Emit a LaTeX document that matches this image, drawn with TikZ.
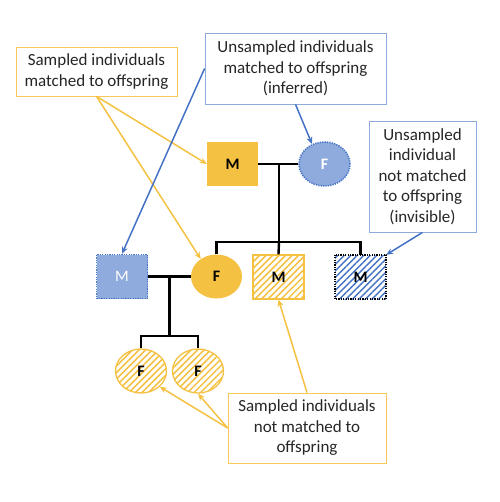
\documentclass[tikz,border=0pt]{standalone}
\usepackage{fontspec}
\setmainfont{Carlito}
\usetikzlibrary{shapes.geometric,patterns.meta,arrows.meta}
\definecolor{gold}{HTML}{F4C143}
\definecolor{goldline}{HTML}{F6C85A}
\definecolor{bluefill}{HTML}{8FAADC}
\definecolor{blueline}{HTML}{4472C4}
\definecolor{textgray}{HTML}{262626}
\tikzset{
  lbl/.style={font=\fontsize{17}{20.5}\selectfont, text=textgray, align=center, fill=white, inner sep=0pt, line width=0.8pt},
  ybox/.style={lbl, draw=goldline},
  bbox/.style={lbl, draw=bluefill},
  sq/.style={rectangle, minimum width=51pt, minimum height=44pt, inner sep=0pt, font=\fontsize{16}{16}\selectfont\bfseries},
  el/.style={ellipse, minimum width=51pt, minimum height=44pt, inner sep=0pt, font=\fontsize{16}{16}\selectfont\bfseries},
  yhatch/.style={pattern={Lines[angle=45,distance=4.6pt,line width=1.5pt]}, pattern color=gold},
  bhatch/.style={pattern={Lines[angle=45,distance=4.6pt,line width=1.5pt]}, pattern color=blueline},
  conn/.style={line width=2.4pt, black},
  yarr/.style={draw=gold, line width=1.5pt, -{Stealth[length=7pt,width=6pt]}},
  barr/.style={draw=blueline, line width=1.5pt, -{Stealth[length=7pt,width=6pt]}},
  dotb/.style={dash pattern=on 1.2pt off 1.2pt, line width=1.6pt},
}
\begin{document}
\begin{tikzpicture}[x=1pt,y=-1pt]
\useasboundingbox (0,0) rectangle (499,502);
% individuals
\node[sq, fill=gold] (tM) at (232.5,164) {M};
\node[el, fill=bluefill, draw=blueline, dotb, text=white] (tF) at (324.5,164) {F};
\node[sq, fill=bluefill, draw=blueline, dotb, text=white, font=\fontsize{16}{16}\selectfont] (bM) at (122,276.5) {M};
\node[el, fill=gold] (F2) at (216.5,276.5) {F};
\node[sq, yhatch, draw=gold, line width=1.3pt] (hM1) at (278.5,277) {M};
\node[sq, bhatch] (hM2) at (360.5,277) {M};
\draw[black, dotb, line width=1.9pt] (hM2.north west) rectangle (hM2.south east);
\node[el, yhatch, draw=gold, line width=1.3pt] (lF) at (141,371) {F};
\node[el, yhatch, draw=gold, line width=1.3pt] (rF) at (198,371) {F};
% connectors
\coordinate (j1) at (279,164);
\coordinate (j1b) at (279,242);
\draw[conn] (tM.east) -- (tF.west);
\draw[conn] (j1) -- (j1b);
\draw[conn] (F2.north) |- (j1b) -| (hM2.north);
\draw[conn] (j1b) -- (hM1.north);
\coordinate (j2) at (169.5,277);
\coordinate (j2b) at (169.5,336);
\draw[conn] (bM.east) -- (F2.west);
\draw[conn] (j2) -- (j2b);
\draw[conn] (lF.north) |- (j2b) -| (rF.north);
% label boxes
\node[ybox, minimum width=161pt, minimum height=49pt] (b1) at (96.5,71.5) {Sampled individuals\\matched to offspring};
\node[bbox, minimum width=181pt, minimum height=71pt] (b2) at (295.5,68.5) {Unsampled individuals\\matched to offspring\\(inferred)};
\node[bbox, minimum width=107pt, minimum height=111pt] (b3) at (422.5,176.5) {Unsampled\\individual\\not matched\\to offspring\\(invisible)};
\node[ybox, minimum width=158pt, minimum height=70pt] (b4) at (307,428) {Sampled individuals\\not matched to\\offspring};
% arrows
\draw[yarr] (b1.south) -- (tM.west);
\draw[yarr] (b1.south) -- (F2.132);
\draw[barr] (b2.west) -- (bM.north);
\draw[barr] (b2.south) -- (tF.122);
\draw[barr] (b3.south) -- (hM2.north east);
\draw[yarr] (b4.north) -- (hM1.south);
\draw[yarr] (b4.west) -- (lF.-40);
\draw[yarr] (b4.west) -- (rF.south);
\end{tikzpicture}
\end{document}
